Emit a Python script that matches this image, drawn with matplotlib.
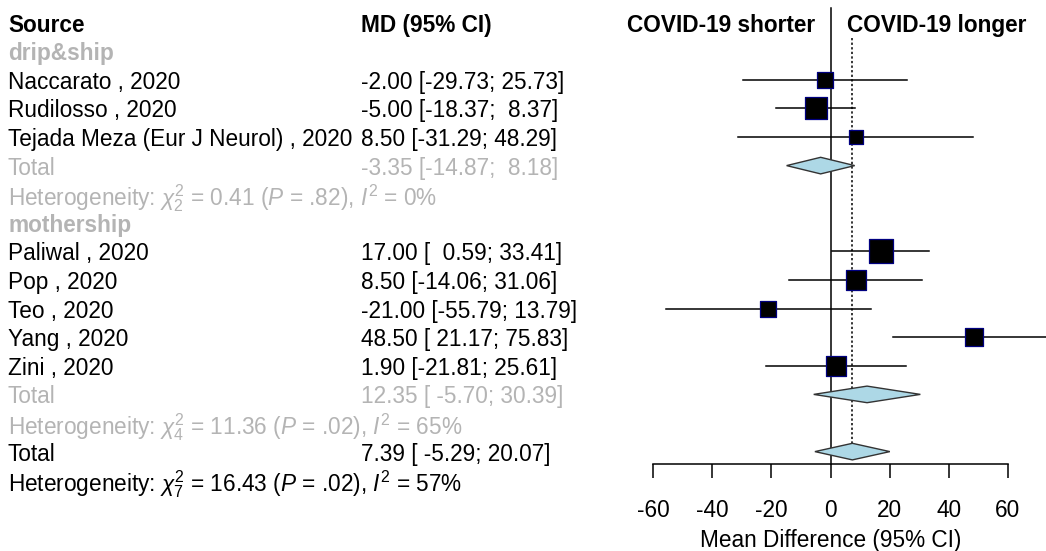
import numpy as np
import matplotlib.pyplot as plt
import matplotlib.transforms as mtransforms

plt.rcParams['font.family'] = ['Liberation Sans', 'DejaVu Sans']
plt.rcParams['mathtext.fontset'] = 'custom'
plt.rcParams['mathtext.rm'] = 'Liberation Sans'
plt.rcParams['mathtext.it'] = 'Liberation Sans:italic'

# ---- data
groups = ["drip&ship", "mothership"]
studies = [["Naccarato , 2020", "Rudilosso , 2020", "Tejada Meza (Eur J Neurol) , 2020"],
           ["Paliwal , 2020", "Pop , 2020", "Teo , 2020", "Yang , 2020", "Zini , 2020"]]
md = [[-2.00, -5.00, 8.50], [17.00, 8.50, -21.00, 48.50, 1.90]]
lo = [[-29.73, -18.37, -31.29], [0.59, -14.06, -55.79, 21.17, -21.81]]
hi = [[25.73, 8.37, 48.29], [33.41, 31.06, 13.79, 75.83, 25.61]]
weight = [[9.2, 17.4, 6.5], [19.0, 14.1, 8.4, 11.9, 13.6]]   # % (square area)

sub_md = [-3.35, 12.35]
sub_lo = [-14.87, -5.70]
sub_hi = [8.18, 30.39]
sub_het = [(2, "0.41", ".82", "0"), (4, "11.36", ".02", "65")]

all_md, all_lo, all_hi = 7.39, -5.29, 20.07
all_het = (7, "16.43", ".02", "57")

xticks = [-60, -40, -20, 0, 20, 40, 60]

GRAY = '#b4b4b4'
FS = 16.3


def ci_text(m, l, h):
    return f"{m:.2f} [{l:6.2f}; {h:5.2f}]"


def het_text(df, q, p, i2):
    return (r"Heterogeneity: $\chi^2_{%d}$ = %s ($P$ = %s), $I^2$ = %s%%" % (df, q, p, i2))


W, H = 1046, 551
fig = plt.figure(figsize=(W / 100, H / 100), dpi=100)
ax = fig.add_axes([600 / W, 0, 446 / W, 1])

# row r sits at pixel y = 22.6 + 28.6 r
y0, pitch = 22.6, 28.6
ax.set_xlim(-78, 72.9)
ax.set_ylim((H - y0) / pitch, -y0 / pitch)
for s in ['top', 'left', 'right']:
    ax.spines[s].set_visible(False)
ax.set_yticks([])

tr = mtransforms.blended_transform_factory(fig.transFigure, ax.transData)


def txt(px, r, s, **kw):
    kw.setdefault('fontsize', FS)
    fig.text(px / W, r, s, transform=tr, va='center_baseline', **kw)


txt(8, 0, "Source", fontweight='bold')
txt(361, 0, "MD (95% CI)", fontweight='bold')
txt(815, 0, "COVID-19 shorter", fontweight='bold', ha='right')
txt(847, 0, "COVID-19 longer", fontweight='bold')

k = 24 / np.sqrt(19.0)   # px per sqrt(weight)
diam_h = 0.29
row = 1
for g in range(len(groups)):
    txt(8, row, groups[g], fontweight='bold', color=GRAY)
    row += 1
    for i in range(len(studies[g])):
        txt(8, row, studies[g][i])
        txt(361, row, ci_text(md[g][i], lo[g][i], hi[g][i]))
        ax.plot([lo[g][i], hi[g][i]], [row, row], color='black', lw=1.1, zorder=2)
        side = k * np.sqrt(weight[g][i]) * 0.72
        ax.scatter([md[g][i]], [row], marker='s', s=side ** 2, color='black',
                   edgecolor='#000080', linewidth=0.9, zorder=3)
        row += 1
    txt(8, row, "Total", color=GRAY)
    txt(361, row, ci_text(sub_md[g], sub_lo[g], sub_hi[g]), color=GRAY)
    ax.fill([sub_lo[g], sub_md[g], sub_hi[g], sub_md[g]],
            [row, row - diam_h, row, row + diam_h],
            facecolor='#add8e6', edgecolor='#333333', lw=1.0, zorder=3)
    row += 1
    txt(8, row, het_text(*sub_het[g]), color=GRAY)
    row += 1

txt(8, row, "Total")
txt(361, row, ci_text(all_md, all_lo, all_hi))
ax.fill([all_lo, all_md, all_hi, all_md],
        [row, row - diam_h, row, row + diam_h],
        facecolor='#add8e6', edgecolor='#333333', lw=1.0, zorder=3)
all_row = row
row += 1
txt(8, row, het_text(*all_het))

axis_r = (464 - y0) / pitch
ax.plot([0, 0], [(8 - y0) / pitch, axis_r], color='black', lw=1.1, zorder=1)
ax.plot([all_md, all_md], [(38 - y0) / pitch, all_row - diam_h], color='black',
        lw=1.1, ls=(0, (1.5, 1.5)), zorder=1)

ax.spines['bottom'].set_position(('data', axis_r))
ax.spines['bottom'].set_bounds(-60, 60)
ax.spines['bottom'].set_linewidth(1.1)
ax.set_xticks(xticks)
ax.set_xticklabels([str(t) for t in xticks])
ax.tick_params(axis='x', direction='out', length=10.4, width=1.1, pad=15, labelsize=FS)
ax.text(0, (538 - y0) / pitch, "Mean Difference (95% CI)", ha='center',
        va='center_baseline', fontsize=FS)

fig.savefig('out.png', dpi=100)
